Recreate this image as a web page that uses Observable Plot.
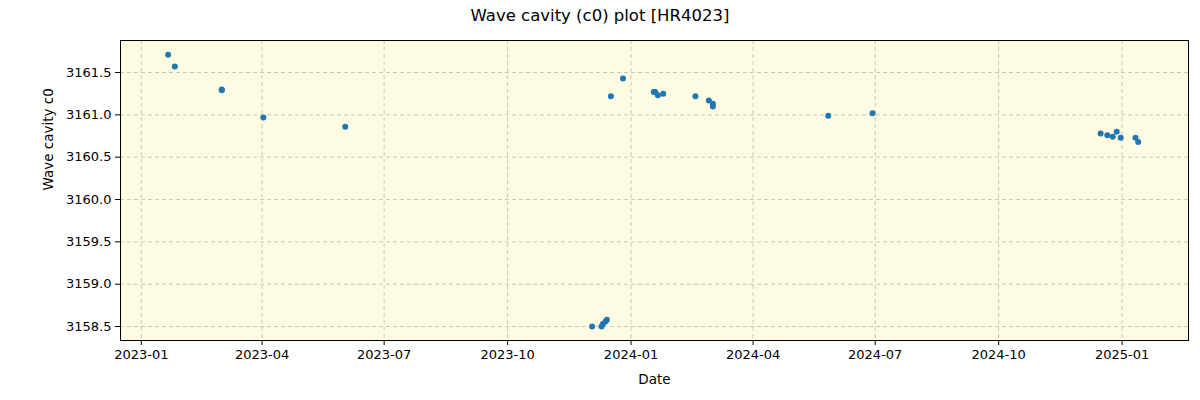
<!DOCTYPE html>
<html>
<head>
<meta charset="utf-8">
<script src="https://cdn.jsdelivr.net/npm/d3@7"></script>
<script src="https://cdn.jsdelivr.net/npm/@observablehq/plot@0.6"></script>
<style>
  html, body { margin: 0; padding: 0; background: #fff; }
  #title { height: 32px; line-height: 32px; text-align: center; font-family: "DejaVu Sans", sans-serif; font-size: 16.5px; color: #000; }
  svg { display: block; }
</style>
</head>
<body>
<div id="title">Wave cavity (c0) plot [HR4023]</div>
<div id="chart"></div>
<script>
const dates = [
  "2023-01-21","2023-01-26","2023-03-02","2023-03-02","2023-04-02","2023-06-02",
  "2023-12-03","2023-12-10","2023-12-11","2023-12-13","2023-12-14",
  "2023-12-17","2023-12-26",
  "2024-01-18","2024-01-19","2024-01-21","2024-01-25",
  "2024-02-18","2024-02-28","2024-03-02","2024-03-02",
  "2024-05-27","2024-06-29",
  "2024-12-16","2024-12-21","2024-12-25","2024-12-28","2024-12-31","2025-01-11","2025-01-13"
];
const values = [
  3161.71, 3161.57, 3161.30, 3161.29, 3160.97, 3160.86,
  3158.50, 3158.50, 3158.53, 3158.56, 3158.58,
  3161.22, 3161.43,
  3161.27, 3161.27, 3161.23, 3161.25,
  3161.22, 3161.17, 3161.13, 3161.10,
  3160.99, 3161.02,
  3160.78, 3160.76, 3160.74, 3160.80, 3160.73, 3160.73, 3160.68
];
const xTicks = ["2023-01-01","2023-04-01","2023-07-01","2023-10-01","2024-01-01","2024-04-01","2024-07-01","2024-10-01","2025-01-01"];
const yTicks = [3158.5, 3159.0, 3159.5, 3160.0, 3160.5, 3161.0, 3161.5];

const parse = d3.utcParse("%Y-%m-%d");
const data = dates.map((d, i) => ({date: parse(d), value: values[i]}));
const xt = xTicks.map(parse);

const chart = Plot.plot({
  width: 1200,
  height: 368,
  marginTop: 8,
  marginBottom: 60,
  marginLeft: 120,
  marginRight: 12,
  style: {fontFamily: "DejaVu Sans, sans-serif", fontSize: "13px", color: "#000", background: "#fff"},
  x: {type: "utc", domain: [new Date(Date.UTC(2022, 11, 16, 12)), new Date(Date.UTC(2025, 1, 19, 12))], ticks: xt, tickFormat: d3.utcFormat("%Y-%m"), label: null, tickSize: 5, tickPadding: 4},
  y: {domain: [3158.335, 3161.878], ticks: yTicks, tickFormat: d3.format(".1f"), label: null, tickSize: 5, tickPadding: 4},
  marks: [
    Plot.frame({fill: "#fdfbe2", stroke: null}),
    Plot.gridX(xt, {stroke: "#b0b0b0", strokeOpacity: 0.7, strokeDasharray: "4,3"}),
    Plot.gridY(yTicks, {stroke: "#b0b0b0", strokeOpacity: 0.7, strokeDasharray: "4,3"}),
    Plot.axisX(xt, {tickFormat: d3.utcFormat("%Y-%m"), tickSize: 5, tickPadding: 4, fontSize: 13, label: null}),
    Plot.axisY(yTicks, {tickFormat: d3.format(".1f"), tickSize: 5, tickPadding: 4, fontSize: 13, label: null}),
    Plot.dot(data, {x: "date", y: "value", r: 3, fill: "#1f77b4", stroke: null}),
    Plot.frame({stroke: "#000", strokeWidth: 1}),
    Plot.text(["Date"], {frameAnchor: "bottom", dy: 43, fontSize: 13.5, fill: "#000"}),
    Plot.text(["Wave cavity c0"], {frameAnchor: "left", dx: -72, rotate: -90, fontSize: 13.5, fill: "#000"})
  ]
});
document.getElementById("chart").appendChild(chart);
</script>
</body>
</html>
